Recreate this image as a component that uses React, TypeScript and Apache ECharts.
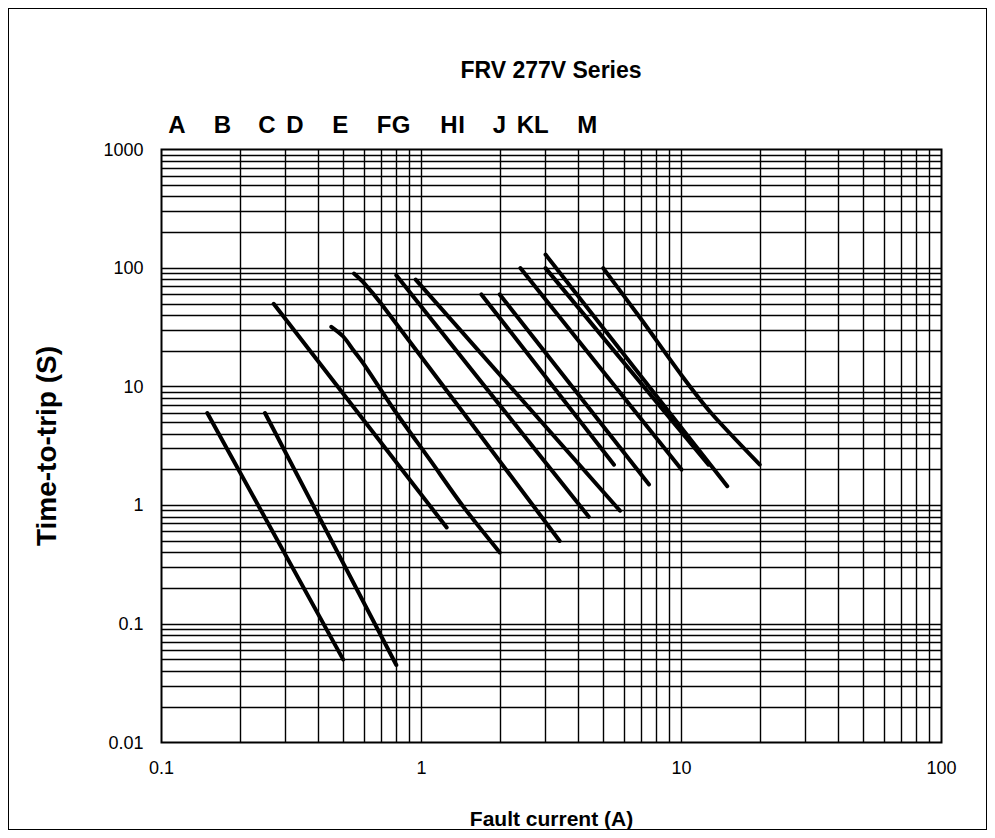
import React, { useEffect, useRef } from 'react';
import * as echarts from 'echarts';

// ---------- text ----------
const chartTitle = 'FRV 277V Series';
const xAxisTitle = 'Fault current (A)';
const yAxisTitle = 'Time-to-trip (S)';
const xTickLabels = ['0.1', '1', '10', '100'];
const yTickLabels = ['0.01', '0.1', '1', '10', '100', '1000'];
const curveNames = ['A', 'B', 'C', 'D', 'E', 'F', 'G', 'H', 'I', 'J', 'K', 'L', 'M'];

// ---------- axis ranges / grid decades ----------
const xMin = 0.1;
const xMax = 100;
const yMin = 0.01;
const yMax = 1000;
const xDecades = [0.1, 1, 10];
const yDecades = [0.01, 0.1, 1, 10, 100];
const gridMultipliers = [1, 2, 3, 4, 5, 6, 7, 8, 9];

// ---------- curves: fault current (A) / time-to-trip (s) ----------
const aCurrent = [0.15, 0.5];
const aTime = [6, 0.05];
const bCurrent = [0.25, 0.8];
const bTime = [6, 0.045];
const cCurrent = [0.27, 1.25];
const cTime = [50, 0.65];
const dCurrent = [0.45, 0.5, 0.55, 0.6, 0.8, 1.08, 1.45, 2.0];
const dTime = [32, 26.5, 20, 15.5, 6, 2.4, 0.97, 0.4];
const eCurrent = [0.55, 0.6, 0.7, 3.4];
const eTime = [90, 75, 50, 0.5];
const fCurrent = [0.8, 4.4];
const fTime = [87, 0.8];
const gCurrent = [0.95, 5.8];
const gTime = [80, 0.9];
const hCurrent = [1.7, 5.5];
const hTime = [60, 2.2];
const iCurrent = [2.0, 7.5];
const iTime = [60, 1.5];
const jCurrent = [2.4, 10];
const jTime = [100, 2.0];
const kCurrent = [3, 15];
const kTime = [130, 1.45];
const lCurrent = [3, 12.7];
const lTime = [100, 2.2];
const mCurrent = [5, 7, 10, 13, 20];
const mTime = [100, 37, 12.5, 6, 2.2];

const curves = [
  [aCurrent, aTime], [bCurrent, bTime], [cCurrent, cTime], [dCurrent, dTime],
  [eCurrent, eTime], [fCurrent, fTime], [gCurrent, gTime], [hCurrent, hTime],
  [iCurrent, iTime], [jCurrent, jTime], [kCurrent, kTime], [lCurrent, lTime],
  [mCurrent, mTime],
];

// ---------- layout (inner chart px) ----------
const letterCentersX = [168, 213.3, 258, 286, 331.3, 375, 392, 440, 452.7, 490.5, 516.3, 532.3, 578.3];

const FONT = '"Liberation Sans", Arial, Helvetica, sans-serif';

export default function App() {
  const ref = useRef<HTMLDivElement>(null);

  useEffect(() => {
    if (!ref.current) return;
    const chart = echarts.init(ref.current, undefined, { renderer: 'svg' });

    const xGrid: number[] = [];
    xDecades.forEach((d) => gridMultipliers.forEach((m) => xGrid.push(+(d * m).toPrecision(3))));
    const yGrid: number[] = [];
    yDecades.forEach((d) => gridMultipliers.forEach((m) => yGrid.push(+(d * m).toPrecision(3))));

    const lineSeries = curves.map(([xs, ys], idx) => ({
      name: curveNames[idx],
      type: 'line',
      z: 5,
      symbol: 'none',
      silent: true,
      smooth: xs.length > 2 ? 0.3 : false,
      data: xs.map((x, i) => [x, ys[i]]),
      lineStyle: { color: '#000', width: 4, cap: 'round', join: 'round' },
    }));

    const option: any = {
      animation: false,
      backgroundColor: '#fff',
      grid: {
        left: 152.5,
        top: 140.5,
        width: 780,
        height: 593,
        show: true,
        borderColor: '#000',
        borderWidth: 2,
        backgroundColor: 'transparent',
        containLabel: false,
        outerBoundsMode: 'none',
      },
      xAxis: {
        type: 'log',
        logBase: 10,
        min: xMin,
        max: xMax,
        name: xAxisTitle,
        nameLocation: 'middle',
        nameGap: 65,
        nameTextStyle: { fontSize: 21, fontWeight: 'bold', color: '#000', fontFamily: FONT },
        axisLine: { show: false },
        axisTick: { show: false },
        splitLine: { show: false },
        axisLabel: {
          fontSize: 18,
          color: '#000',
          fontFamily: FONT,
          margin: 16,
          formatter: (v: number) => xTickLabels[Math.round(Math.log10(v) - Math.log10(xMin))] ?? '',
        },
      },
      yAxis: {
        type: 'log',
        logBase: 10,
        min: yMin,
        max: yMax,
        name: yAxisTitle,
        nameLocation: 'middle',
        nameGap: 101,
        nameTextStyle: { fontSize: 28, fontWeight: 'bold', color: '#000', fontFamily: FONT },
        axisLine: { show: false },
        axisTick: { show: false },
        splitLine: { show: false },
        axisLabel: {
          fontSize: 18,
          color: '#000',
          fontFamily: FONT,
          margin: 18,
          formatter: (v: number) => yTickLabels[Math.round(Math.log10(v) - Math.log10(yMin))] ?? '',
        },
      },
      graphic: [
        {
          type: 'text',
          x: 542,
          y: 61,
          silent: true,
          style: {
            text: chartTitle,
            fontSize: 23,
            fontWeight: 'bold',
            fontFamily: FONT,
            fill: '#000',
            align: 'center',
            verticalAlign: 'middle',
          },
        },
        ...curveNames.map((n, i) => ({
          type: 'text',
          x: letterCentersX[i],
          y: 115,
          silent: true,
          style: {
            text: n,
            fontSize: 24,
            fontWeight: 'bold',
            fontFamily: FONT,
            fill: '#000',
            align: 'center',
            verticalAlign: 'middle',
          },
        })),
      ],
      series: [
        {
          type: 'line',
          name: 'grid',
          z: 1,
          data: [],
          silent: true,
          markLine: {
            silent: true,
            symbol: 'none',
            animation: false,
            label: { show: false },
            emphasis: { disabled: true },
            lineStyle: { color: '#000', width: 1.4, type: 'solid' },
            data: [
              ...xGrid.filter((v) => v > xMin && v < xMax).map((v) => ({ xAxis: v })),
              ...yGrid.filter((v) => v > yMin && v < yMax).map((v) => ({ yAxis: v })),
            ],
          },
        },
        ...lineSeries,
      ],
    };

    chart.setOption(option);
    return () => chart.dispose();
  }, []);

  return (
    <div
      style={{
        width: 979,
        height: 822,
        border: '1px solid #000',
        boxSizing: 'border-box',
        background: '#fff',
      }}
    >
      <div ref={ref} style={{ width: 977, height: 820 }} />
    </div>
  );
}
